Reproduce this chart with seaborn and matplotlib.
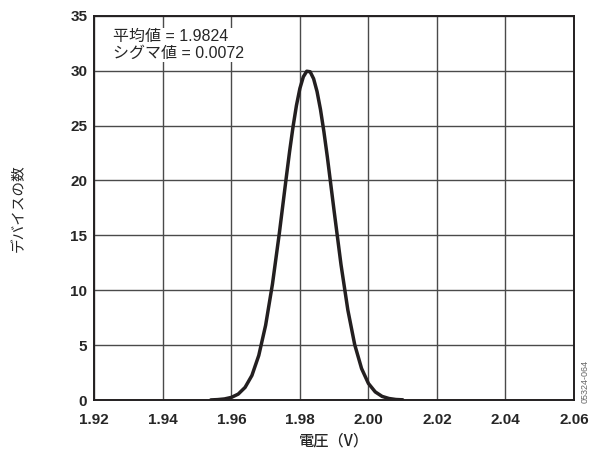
import matplotlib
matplotlib.use("Agg")
import pandas as pd
import seaborn as sns
from matplotlib import pyplot as plt

# voltage (V) and device count
voltage = [1.954, 1.956, 1.958, 1.960, 1.962, 1.964, 1.966, 1.968, 1.970, 1.972,
           1.974, 1.976, 1.977, 1.978, 1.979, 1.980, 1.981, 1.982, 1.983, 1.984,
           1.985, 1.986, 1.987, 1.988, 1.990, 1.992, 1.994, 1.996, 1.998, 2.000,
           2.002, 2.004, 2.006, 2.008, 2.010]
devices = [0.01, 0.04, 0.10, 0.24, 0.54, 1.15, 2.24, 4.06, 6.81, 10.57,
           15.19, 20.21, 22.65, 24.89, 26.84, 28.38, 29.44, 29.95, 29.90, 29.27,
           28.11, 26.48, 24.46, 22.17, 17.19, 12.33, 8.19, 5.04, 2.87, 1.51,
           0.74, 0.33, 0.14, 0.05, 0.02]
x_ticks = [1.92, 1.94, 1.96, 1.98, 2.00, 2.02, 2.04, 2.06]
y_ticks = [0, 5, 10, 15, 20, 25, 30, 35]

df = pd.DataFrame({"voltage": voltage, "devices": devices})

sns.set_style("white")
plt.rcParams['font.family'] = ['Liberation Sans', 'Noto Sans CJK JP', 'DejaVu Sans']
jp = ['Noto Sans CJK JP', 'Liberation Sans', 'DejaVu Sans']

fig = plt.figure(figsize=(5.93, 4.51), dpi=100)
ax = fig.add_axes([0.159, 0.113, 0.809, 0.852])

sns.lineplot(data=df, x="voltage", y="devices", color="#231f20", linewidth=2.5, ax=ax)
ax.lines[0].set_solid_joinstyle("round")

ax.set_xlim(1.92, 2.06)
ax.set_ylim(0, 35)
ax.set_xticks(x_ticks)
ax.set_yticks(y_ticks)
ax.set_xticklabels([f"{t:.2f}" for t in x_ticks], fontweight="bold", fontsize=11)
ax.set_yticklabels([str(t) for t in y_ticks], fontweight="bold", fontsize=11)
ax.tick_params(axis="x", length=0, pad=9)
ax.tick_params(axis="y", length=0, pad=5)
ax.grid(True, color="#4a4a4a", linewidth=1.0)
ax.set_axisbelow(True)
for s in ax.spines.values():
    s.set_color("#231f20")
    s.set_linewidth(1.4)

ax.set_xlabel("電圧（V）", family=jp, fontsize=11, fontweight="medium", labelpad=4)
ax.set_ylabel("デバイスの数", family=jp, fontsize=10.5, labelpad=32)

ax.text(0.038, 0.965, "平均値 = 1.9824\nシグマ値 = 0.0072", transform=ax.transAxes,
        fontsize=11.5, va="top", ha="left", linespacing=1.1,
        bbox=dict(facecolor="white", edgecolor="none", pad=1))

fig.text(0.986, 0.155, "05324-064", rotation=90, fontsize=6.5, color="#666666",
         ha="center", va="center")

fig.savefig("out.png", dpi=100)
